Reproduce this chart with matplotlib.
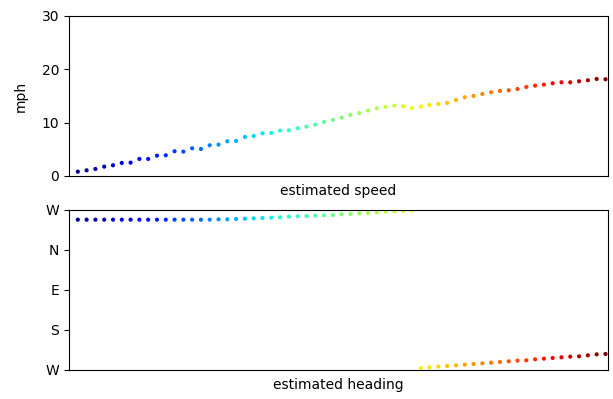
import matplotlib
matplotlib.use('Agg')
import matplotlib.pyplot as plt
import numpy as np

# one sample per step, 61 samples
speed_mph = [0.81, 1.06, 1.31, 1.75, 2.0, 2.44, 2.5, 3.19, 3.19, 3.81,
             3.88, 4.63, 4.56, 5.19, 5.06, 5.75, 5.88, 6.5, 6.56, 7.31,
             7.5, 8.0, 8.06, 8.5, 8.56, 8.94, 9.25, 9.63, 10.13, 10.5,
             10.94, 11.44, 11.81, 12.25, 12.69, 12.94, 13.19, 13.06, 12.75, 13.0,
             13.31, 13.5, 13.69, 14.25, 14.75, 15.0, 15.38, 15.69, 15.94, 16.06,
             16.31, 16.69, 16.94, 17.13, 17.38, 17.56, 17.56, 17.75, 17.94, 18.19,
             18.13]

# heading in degrees, math convention (E=0, N=90, W=+/-180)
heading_deg = [158.25] * 16 + [
    159.0, 159.0, 159.75, 160.5, 161.25, 162.0, 162.75, 163.5, 165.0, 165.75,
    166.5, 167.25, 168.0, 168.75, 170.25, 171.0, 172.5, 173.25, 174.75, 176.25,
    177.0, 178.5, 179.5,
    -175.5, -174.0, -172.5, -171.0, -169.5, -168.0, -166.5, -165.0, -163.5, -162.0,
    -160.5, -159.0, -158.25, -156.0, -154.5, -153.0, -151.5, -150.0, -149.25, -147.0,
    -144.75, -144.0]

heading_ticks = [-180, -90, 0, 90, 180]
heading_labels = ['W', 'S', 'E', 'N', 'W']

t = np.arange(len(speed_mph))

fig = plt.figure(figsize=(6.13, 3.99), dpi=100)
ax1 = fig.add_axes([0.1126, 0.559, 0.8794, 0.401])
ax2 = fig.add_axes([0.1126, 0.0727, 0.8794, 0.401])

ax1.scatter(t, speed_mph, c=t, cmap='jet', s=9, linewidths=0)
ax1.set_ylim(0, 30)
ax1.set_yticks([0, 10, 20, 30])
ax1.set_ylabel('mph', labelpad=10)
ax1.set_xlabel('estimated speed', labelpad=6)
ax1.set_xticks([])
ax1.set_xlim(-1, 60.3)

ax2.scatter(t, heading_deg, c=t, cmap='jet', s=9, linewidths=0)
ax2.set_ylim(-180, 180)
ax2.set_yticks(heading_ticks)
ax2.set_yticklabels(heading_labels)
ax2.set_xlabel('estimated heading', labelpad=6)
ax2.set_xticks([])
ax2.set_xlim(-1, 60.3)

plt.savefig('out.png', dpi=100)
